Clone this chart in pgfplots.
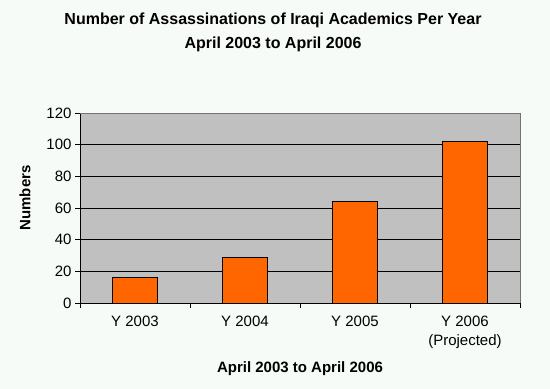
\documentclass[border=0pt]{standalone}
\usepackage{pgfplots}
\pgfplotsset{compat=1.18}
\usepackage{fontspec}
\setmainfont{Liberation Sans}
\definecolor{bgc}{HTML}{F7FBF7}
\definecolor{plotgray}{HTML}{C0C0C0}
\definecolor{barorange}{HTML}{FF6600}
\begin{document}
\begin{tikzpicture}[x=1pt,y=1pt]
\fill[bgc] (0,0) rectangle (550,389);
\node[font=\fontsize{16}{19}\selectfont\bfseries] at (273,369) {Number of Assassinations of Iraqi Academics Per Year};
\node[font=\fontsize{16}{19}\selectfont\bfseries] at (273,345) {April 2003 to April 2006};
\begin{axis}[
  at={(80pt,86pt)}, anchor=south west,
  scale only axis, width=440pt, height=190pt,
  xmin=0.5, xmax=4.5, ymin=0, ymax=120,
  axis background/.style={fill=plotgray},
  axis x line*=bottom, axis y line*=left,
  axis line style={black, line width=0.8pt},
  ytick={0,20,40,60,80,100},
  extra y ticks={120}, extra y tick style={grid=none},
  ymajorgrids, major grid style={black, line width=0.8pt},
  xtick={1,2,3,4},
  xticklabels={Y 2003, Y 2004, Y 2005, {Y 2006\\(Projected)}},
  xticklabel style={align=center},
  x tick label style={yshift=-4pt},
  minor xtick={0.5,1.5,2.5,3.5,4.5},
  tick align=outside,
  major tick length=5pt, minor tick length=5pt,
  x tick style={draw=none},
  minor x tick style={draw=black, line width=0.8pt},
  y tick style={black, line width=0.8pt},
  tick label style={font=\fontsize{15}{19}\selectfont},
  /pgf/number format/assume math mode=true,
  xlabel={April 2003 to April 2006},
  xlabel style={font=\fontsize{15}{18}\selectfont\bfseries, at={(axis description cs:0.5,-0.347)}, anchor=center},
  ylabel={Numbers},
  ylabel style={font=\fontsize{15}{18}\selectfont\bfseries, at={(axis description cs:-0.125,0.553)}, anchor=center},
  ybar, bar width=45pt,
  clip=false,
]
\draw[color=gray!90!black, line width=0.8pt] (axis cs:0.5,120) -- (axis cs:4.5,120) -- (axis cs:4.5,0);
\addplot[draw=black, fill=barorange, line width=0.8pt] coordinates {(1,16) (2,29) (3,64) (4,102)};
\end{axis}
\end{tikzpicture}
\end{document}
